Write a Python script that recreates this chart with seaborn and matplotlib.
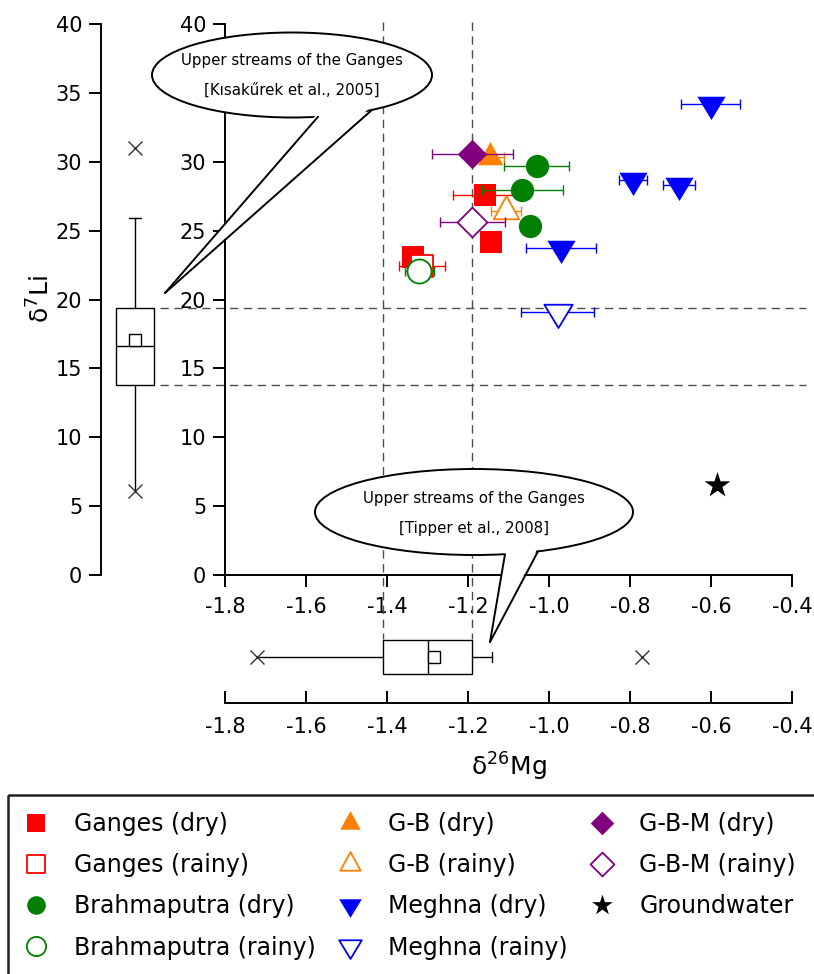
import numpy as np
import matplotlib
matplotlib.use("Agg")
import matplotlib.pyplot as plt
import matplotlib.transforms as mtransforms
import seaborn as sns
from matplotlib.patches import Ellipse, Polygon, Rectangle
from matplotlib.path import Path
from matplotlib.ticker import FormatStrFormatter

sns.set_style("ticks")
plt.rcParams["font.family"] = ["DejaVu Sans"]
plt.rcParams["axes.unicode_minus"] = False
for k in ("text.color", "axes.labelcolor", "xtick.color", "ytick.color", "axes.edgecolor"):
    plt.rcParams[k] = "black"

# d26Mg / d7Li of the river and groundwater samples
ganges_dry_mg = [-1.158, -1.142, -1.335]
ganges_dry_li = [27.6, 24.2, 23.1]
ganges_dry_err = [0.08, 0.0, 0.0]

ganges_rainy_mg = [-1.314]
ganges_rainy_li = [22.45]
ganges_rainy_err = [0.056]

brahma_dry_mg = [-1.030, -1.066, -1.047]
brahma_dry_li = [29.72, 27.95, 25.34]
brahma_dry_err = [0.08, 0.10, 0.0]

brahma_rainy_mg = [-1.320]
brahma_rainy_li = [22.1]
brahma_rainy_err = [0.035]

gb_dry_mg = [-1.145]
gb_dry_li = [30.33]
gb_dry_err = [0.035]

gb_rainy_mg = [-1.106]
gb_rainy_li = [26.45]
gb_rainy_err = [0.037]

meghna_dry_mg = [-0.601, -0.793, -0.679, -0.971]
meghna_dry_li = [34.17, 28.68, 28.29, 23.76]
meghna_dry_err = [0.073, 0.035, 0.04, 0.087]

meghna_rainy_mg = [-0.979]
meghna_rainy_li = [19.09]
meghna_rainy_err = [0.09]

gbm_dry_mg = [-1.189]
gbm_dry_li = [30.56]
gbm_dry_err = [0.10]

gbm_rainy_mg = [-1.189]
gbm_rainy_li = [25.65]
gbm_rainy_err = [0.08]

groundwater_mg = [-0.586]
groundwater_li = [6.53]

# upper Ganges literature data, shown as box plots
li_box = dict(q1=13.8, med=16.6, q3=19.35, mean=17.05, whislo=6.1, whishi=25.9, fliers=[6.1, 31.0])
mg_box = dict(q1=-1.41, med=-1.30, q3=-1.19, mean=-1.283, whislo=-1.72, whishi=-1.14, fliers=[-1.72, -0.77])

mg_ticks = [-1.8, -1.6, -1.4, -1.2, -1.0, -0.8, -0.6, -0.4]
li_ticks = [0, 5, 10, 15, 20, 25, 30, 35, 40]

# triangles centred on their centroid, like the original software does
tri_up = Path([(0, 1), (-0.82, -0.5), (0.82, -0.5), (0, 1)], closed=True)
tri_down = Path([(0, -1), (-0.91, 0.5), (0.91, 0.5), (0, -1)], closed=True)

groups = [
    ("Ganges (dry)", ganges_dry_mg, ganges_dry_li, ganges_dry_err, "#ff0000", "s", True, 260),
    ("Ganges (rainy)", ganges_rainy_mg, ganges_rainy_li, ganges_rainy_err, "#ff0000", "s", False, 240),
    ("Brahmaputra (dry)", brahma_dry_mg, brahma_dry_li, brahma_dry_err, "#007f00", "o", True, 280),
    ("Brahmaputra (rainy)", brahma_rainy_mg, brahma_rainy_li, brahma_rainy_err, "#007f00", "o", False, 300),
    ("G-B (dry)", gb_dry_mg, gb_dry_li, gb_dry_err, "#ff8000", tri_up, True, 500),
    ("G-B (rainy)", gb_rainy_mg, gb_rainy_li, gb_rainy_err, "#ff8000", tri_up, False, 500),
    ("Meghna (dry)", meghna_dry_mg, meghna_dry_li, meghna_dry_err, "#0000ff", tri_down, True, 500),
    ("Meghna (rainy)", meghna_rainy_mg, meghna_rainy_li, meghna_rainy_err, "#0000ff", tri_down, False, 500),
    ("G-B-M (dry)", gbm_dry_mg, gbm_dry_li, gbm_dry_err, "#800080", "D", True, 225),
    ("G-B-M (rainy)", gbm_rainy_mg, gbm_rainy_li, gbm_rainy_err, "#800080", "D", False, 230),
    ("Groundwater", groundwater_mg, groundwater_li, None, "black", "*", True, 380),
]

fig = plt.figure(figsize=(8.14, 9.74), dpi=100)
W, H = 814, 974

axl = fig.add_axes([101 / W, 1 - 575 / H, 68 / W, 551 / H])
ax = fig.add_axes([225 / W, 1 - 575 / H, 567 / W, 551 / H])
axb = fig.add_axes([225 / W, 1 - 703 / H, 567 / W, 92 / H])
for a in (axl, ax, axb):
    a.patch.set_visible(False)

tick_kw = dict(labelsize=15, width=1.4, length=8.5, color="black", labelcolor="black")

# main scatter
for label, xs, ys, errs, color, marker, filled, size in groups:
    if errs is not None:
        ax.errorbar(xs, ys, xerr=errs, fmt="none", ecolor=color, elinewidth=1.0,
                    capsize=3.7, capthick=1.0, zorder=3)
    sns.scatterplot(x=xs, y=ys, ax=ax, marker=marker, s=size,
                    facecolor=color if filled else "white", edgecolor=color,
                    linewidth=0 if filled else 1.3, label=label, legend=False, zorder=3)

ax.set_xlim(-1.8, -0.4)
ax.set_ylim(0, 40)
ax.set_xticks(mg_ticks)
ax.xaxis.set_major_formatter(FormatStrFormatter("%.1f"))
ax.set_yticks(li_ticks)
ax.set_xlabel("")
ax.set_ylabel("")
sns.despine(ax=ax)
for s in ("left", "bottom"):
    ax.spines[s].set_linewidth(1.4)
ax.tick_params(axis="y", direction="out", pad=5, **tick_kw)
ax.tick_params(axis="x", direction="out", pad=7, **tick_kw)

box_kw = dict(showmeans=True, patch_artist=True,
              boxprops=dict(facecolor="white", edgecolor="black", linewidth=1.0),
              medianprops=dict(color="black", linewidth=1.0),
              whiskerprops=dict(color="black", linewidth=1.0),
              capprops=dict(color="black", linewidth=1.0),
              flierprops=dict(marker="x", markersize=10, markeredgecolor="#333333", markeredgewidth=1.0),
              meanprops=dict(marker="s", markersize=8.5, markerfacecolor="white",
                             markeredgecolor="black", markeredgewidth=1.0))

# left box plot (d7Li)
bl = axl.bxp([li_box], positions=[0], widths=1.12, capwidths=0.35, orientation="vertical", **box_kw)
bl["caps"][0].set_visible(False)
axl.set_xlim(-1, 1)
axl.set_ylim(0, 40)
axl.set_yticks(li_ticks)
axl.set_xticks([])
sns.despine(ax=axl, bottom=True)
axl.spines["left"].set_linewidth(1.4)
axl.tick_params(axis="y", direction="out", pad=5, **tick_kw)
axl.set_ylabel("δ$^{7}$Li", fontsize=18, labelpad=1, color="black")

# bottom box plot (d26Mg)
bb = axb.bxp([mg_box], positions=[0], widths=0.76, capwidths=0.2, orientation="horizontal", **box_kw)
bb["caps"][0].set_visible(False)
axb.set_ylim(-1, 1)
axb.set_xlim(-1.8, -0.4)
axb.set_xticks(mg_ticks)
axb.xaxis.set_major_formatter(FormatStrFormatter("%.1f"))
axb.set_yticks([])
sns.despine(ax=axb, left=True)
axb.spines["bottom"].set_linewidth(1.4)
axb.tick_params(axis="x", direction="in", pad=10, **tick_kw)
axb.set_xlabel("δ$^{26}$Mg", fontsize=18, labelpad=10, color="black")

# dashed guide lines at the quartiles of the box plots
dash = dict(color="#4d4d4d", lw=1.0, ls=(0, (6, 4)), clip_on=False, zorder=1)
th = mtransforms.blended_transform_factory(fig.transFigure, ax.transData)
for q in (li_box["q1"], li_box["q3"]):
    ax.plot([160 / W, 0.99], [q, q], transform=th, **dash)
tv = mtransforms.blended_transform_factory(ax.transData, fig.transFigure)
for q in (mg_box["q1"], mg_box["q3"]):
    ax.plot([q, q], [1 - 22 / H, 1 - 639 / H], transform=tv, **dash)

# callouts, drawn in pixel space on a transparent overlay
ov = fig.add_axes([0, 0, 1, 1])
ov.set_xlim(0, W)
ov.set_ylim(H, 0)
ov.axis("off")


def callout(cx, cy, w, h, base, tip, lines):
    ov.add_patch(Ellipse((cx, cy), w, h, facecolor="white", edgecolor="black", lw=1.4, zorder=5))
    pts = []
    for bx in base:
        by = cy + (h / 2) * np.sqrt(1 - ((bx - cx) / (w / 2)) ** 2)
        pts.append((bx, by))
    ov.add_patch(Polygon([(pts[0][0], pts[0][1] - 4), tip, (pts[1][0], pts[1][1] - 4)],
                         closed=True, facecolor="white", edgecolor="none", zorder=6))
    for p in pts:
        ov.plot([p[0], tip[0]], [p[1], tip[1]], color="black", lw=1.4, zorder=7)
    for i, t in enumerate(lines):
        ov.text(cx, cy - 14 + 30 * i, t, ha="center", va="center", fontsize=10.8,
                color="black", zorder=8)


callout(292, 75, 280, 85, (318, 372), (165, 293),
        ["Upper streams of the Ganges", "[Kısakűrek et al., 2005]"])
callout(474, 512, 318, 86, (505, 538), (490, 642),
        ["Upper streams of the Ganges", "[Tipper et al., 2008]"])

ov.add_patch(Rectangle((8, 795), 830, 200, fill=False, edgecolor="#222222", lw=1.8, clip_on=False))

handles, labels = ax.get_legend_handles_labels()
leg = fig.legend(handles, labels, ncol=3, loc="upper left", bbox_to_anchor=(22 / W, 1 - 812 / H),
                 frameon=False, fontsize=17, markerscale=0.8, handlelength=1.2, handletextpad=1.0,
                 columnspacing=0.85, labelspacing=0.73, borderaxespad=0, borderpad=0,
                 scatteryoffsets=[0.5])
for t in leg.get_texts():
    t.set_color("black")

fig.savefig("out.png", dpi=100)
